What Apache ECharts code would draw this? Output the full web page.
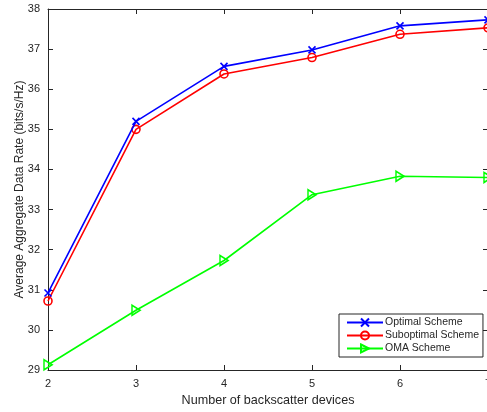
<!DOCTYPE html>
<html><head><meta charset="utf-8">
<script src="https://cdn.jsdelivr.net/npm/echarts@6/dist/echarts.min.js"></script>
<style>html,body{margin:0;padding:0;background:#fff}#c{width:487px;height:412px}</style>
</head><body><div id="c"></div>
<script>
const devices = [2, 3, 4, 5, 6, 7];
const optimal = [30.92, 35.2, 36.57, 36.98, 37.58, 37.73];
const suboptimal = [30.72, 35.0, 36.38, 36.79, 37.37, 37.53];
const oma = [29.13, 30.49, 31.73, 33.37, 33.83, 33.8];
const seriesNames = ['Optimal Scheme', 'Suboptimal Scheme', 'OMA Scheme'];

const axisCol = '#262626';
const font = 'Liberation Sans, Arial, Helvetica, sans-serif';
const pair = (arr) => devices.map((d, i) => [d, arr[i]]);

const chart = echarts.init(document.getElementById('c'));
const baseX = {
  type: 'value', min: 2, max: 7, interval: 1,
  axisLine: {show: true, lineStyle: {color: axisCol, width: 1}},
  axisTick: {show: true, inside: true, length: 5, lineStyle: {color: axisCol}},
  splitLine: {show: false}
};
const baseY = {
  type: 'value', min: 29, max: 38, interval: 1,
  axisLine: {show: true, lineStyle: {color: axisCol, width: 1}},
  axisTick: {show: true, inside: true, length: 5, lineStyle: {color: axisCol}},
  splitLine: {show: false}
};
chart.setOption({
  animation: false,
  backgroundColor: '#fff',
  grid: {left: 48, top: 9, width: 440, height: 361, containLabel: false, outerBoundsMode: 'none'},
  xAxis: [
    Object.assign({}, baseX, {
      position: 'bottom',
      axisLabel: {color: axisCol, fontSize: 11, fontFamily: font, margin: 8},
      name: 'Number of backscatter devices', nameLocation: 'middle', nameGap: 24, nameMoveOverlap: false,
      nameTextStyle: {color: axisCol, fontSize: 12.6, fontFamily: font}
    }),
    Object.assign({}, baseX, {position: 'top', axisLabel: {show: false}})
  ],
  yAxis: [
    Object.assign({}, baseY, {
      position: 'left',
      axisLabel: {color: axisCol, fontSize: 11, fontFamily: font, margin: 8},
      name: 'Average Aggregate Data Rate (bits/s/Hz)', nameLocation: 'middle', nameGap: 22, nameMoveOverlap: false,
      nameTextStyle: {color: axisCol, fontSize: 12, fontFamily: font}
    }),
    Object.assign({}, baseY, {position: 'right', axisLabel: {show: false}})
  ],
  legend: {
    left: 339, top: 314, orient: 'vertical',
    backgroundColor: '#fff', borderColor: axisCol, borderWidth: 1, borderRadius: 0,
    padding: [3, 4, 3, 7], itemGap: 2, itemWidth: 36, itemHeight: 10,
    textStyle: {color: axisCol, fontSize: 10.5, fontFamily: font, padding: [0, 0, 0, -3]},
    data: seriesNames
  },
  series: [
    {
      name: seriesNames[0], type: 'line', data: pair(optimal),
      symbol: 'path://M0,0L10,10M10,0L0,10', symbolSize: 7,
      lineStyle: {color: '#0000ff', width: 1.6},
      itemStyle: {color: 'rgba(0,0,0,0)', borderColor: '#0000ff', borderWidth: 1.6},
      z: 3
    },
    {
      name: seriesNames[1], type: 'line', data: pair(suboptimal),
      symbol: 'circle', symbolSize: 8,
      lineStyle: {color: '#ff0000', width: 1.6},
      itemStyle: {color: 'rgba(0,0,0,0)', borderColor: '#ff0000', borderWidth: 1.6},
      z: 2
    },
    {
      name: seriesNames[2], type: 'line', data: pair(oma),
      symbol: 'path://M0,0L10,6L0,12Z', symbolSize: [8, 10],
      lineStyle: {color: '#00ff00', width: 1.6},
      itemStyle: {color: 'rgba(0,0,0,0)', borderColor: '#00ff00', borderWidth: 1.6},
      z: 1
    }
  ]
});
</script></body></html>
